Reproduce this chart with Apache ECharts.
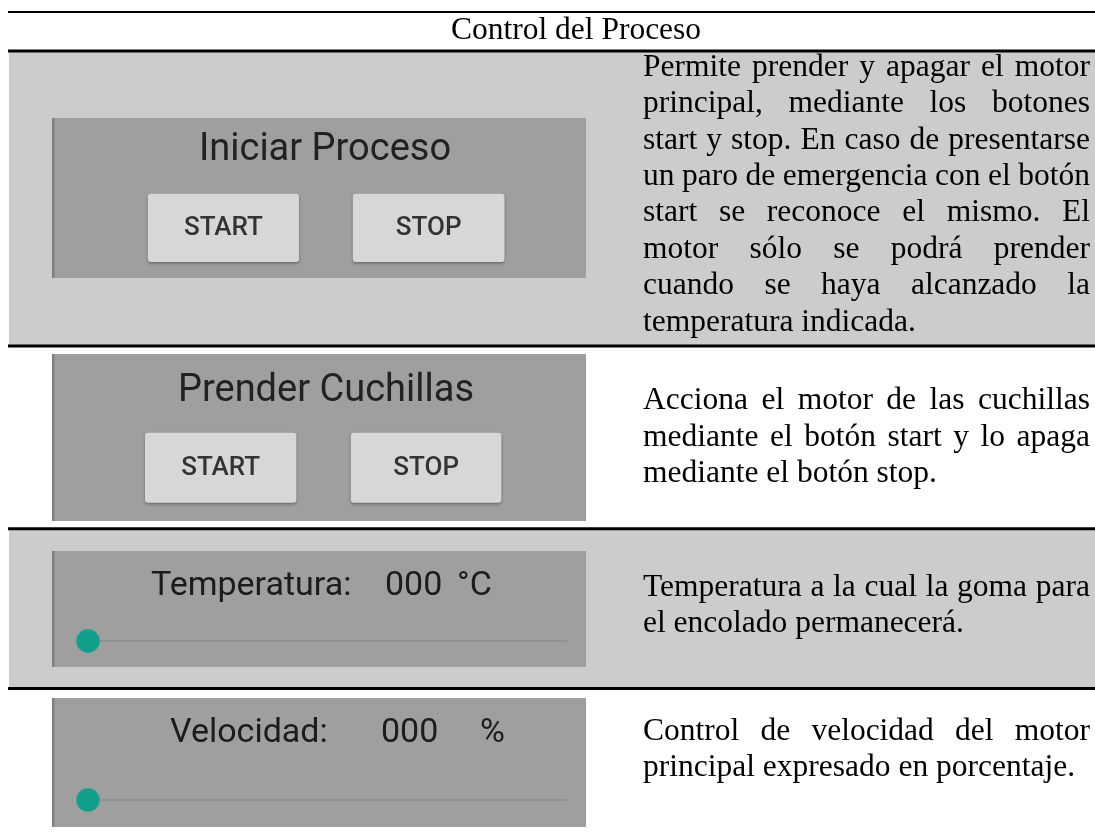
<!DOCTYPE html>
<html><head><meta charset="utf-8">
<script src="https://cdn.jsdelivr.net/npm/echarts@6/dist/echarts.min.js"></script>
<style>html,body{margin:0;padding:0;background:#fff}#c{width:1095px;height:834px}</style>
</head><body><div id="c"></div>
<script>
// ---- content ----
const tableTitle = 'Control del Proceso';
const panelTitles = ['Iniciar Proceso', 'Prender Cuchillas'];
const buttonLabels = ['START', 'STOP'];
const readoutLabels = ['Temperatura:', 'Velocidad:'];
const readoutValues = ['000', '000'];
const readoutUnits = ['°C', '%'];
const sliderValues = [0, 0];
const sliderRange = [0, 100];
const descRow1 = [
  'Permite prender y apagar el motor',
  'principal, mediante los botones',
  'start y stop. En caso de presentarse',
  'un paro de emergencia con el botón',
  'start se reconoce el mismo. El',
  'motor sólo se podrá prender',
  'cuando se haya alcanzado la',
  'temperatura indicada.'
];
const descRow2 = [
  'Acciona el motor de las cuchillas',
  'mediante el botón start y lo apaga',
  'mediante el botón stop.'
];
const descRow3 = [
  'Temperatura a la cual la goma para',
  'el encolado permanecerá.'
];
const descRow4 = [
  'Control de velocidad del motor',
  'principal expresado en porcentaje.'
];

// ---- layout ----
const W = 1095, H = 834;
const TL = 9;                 // table left
const SERIF = '"Liberation Serif", "Times New Roman", serif';
const SANS = 'Roboto, "Noto Sans", sans-serif';
const BODY_FS = 31.5, BODY_LH = 36.4;
const TX0 = 643, TX1 = 1090;
const MID = 0.34;             // baseline -> middle offset (em)
const PX0 = 52, PX1 = 586;    // screenshot panels

const ctx = document.createElement('canvas').getContext('2d');
function measure(t, font) { ctx.font = font; return ctx.measureText(t).width; }

function txt(text, x, y, fs, family, fill, align, weight) {
  const font = (weight ? weight + ' ' : '') + fs + 'px ' + family;
  return { type: 'text', silent: true, z: 10,
    style: { text, x, y: y - MID * fs, font, fill, textAlign: align || 'left', textVerticalAlign: 'middle' } };
}

function paragraph(lines, base0) {
  const font = BODY_FS + 'px ' + SERIF;
  const els = [];
  lines.forEach((line, i) => {
    const words = line.split(' ');
    const last = i === lines.length - 1;
    const ww = words.map(w => measure(w, font));
    const tot = ww.reduce((a, b) => a + b, 0);
    const gap = (!last && words.length > 1) ? (TX1 - TX0 - tot) / (words.length - 1) : measure(' ', font);
    let x = TX0;
    words.forEach((w, j) => {
      els.push(txt(w, x, base0 + i * BODY_LH, BODY_FS, SERIF, '#000', 'left'));
      x += ww[j] + gap;
    });
  });
  return els;
}

function rect(x, y, w, h, fill, extra) {
  return Object.assign({ type: 'rect', silent: true, shape: { x, y, width: w, height: h }, style: { fill } }, extra || {});
}

function button(x0, x1, y0, y1, label) {
  return [
    rect(x0, y0, x1 - x0, y1 - y0, '#d7d7d7', {
      shape: { x: x0, y: y0, width: x1 - x0, height: y1 - y0, r: 3 },
      style: { fill: '#d7d7d7', shadowBlur: 3, shadowOffsetY: 1.5, shadowColor: 'rgba(0,0,0,0.35)' }, z: 5 }),
    txt(label, (x0 + x1) / 2, (y0 + y1) / 2 + 9.3, 26, SANS, '#333', 'center', 500)
  ];
}

function panel(y0, y1) {
  return [
    rect(PX0, y0, PX1 - PX0, y1 - y0, '#9f9f9f', { z: 2 }),
    rect(PX0, y0, 2.5, y1 - y0, '#808080', { z: 3 })
  ];
}

const g = [];
// row backgrounds
g.push(rect(TL, 52, W - TL, 293, '#cccccc'));
g.push(rect(TL, 530, W - TL, 157.5, '#cccccc'));
// rules
g.push(rect(TL - 1, 11, W - TL + 1, 2, '#000', { z: 8 }));
g.push(rect(TL - 1, 49.5, W - TL + 1, 3, '#000', { z: 8 }));
g.push(rect(TL - 1, 344.5, W - TL + 1, 3, '#000', { z: 8 }));
g.push(rect(TL - 1, 527.3, W - TL + 1, 3, '#000', { z: 8 }));
g.push(rect(TL - 1, 687, W - TL + 1, 3, '#000', { z: 8 }));
// title
g.push(txt(tableTitle, 576, 41, BODY_FS, SERIF, '#000', 'center'));

// row 1 panel
g.push(...panel(118, 278));
g.push(txt(panelTitles[0], 325, 163, 38, SANS, '#222', 'center'));
g.push(...button(147.8, 299, 193.7, 262, buttonLabels[0]));
g.push(...button(352.8, 504.5, 193.7, 262, buttonLabels[1]));
// row 2 panel
g.push(...panel(354, 521));
g.push(txt(panelTitles[1], 326, 404, 38, SANS, '#222', 'center'));
g.push(...button(145, 296.4, 432.7, 502.7, buttonLabels[0]));
g.push(...button(350.8, 501.4, 432.7, 502.7, buttonLabels[1]));
// row 3 panel
g.push(...panel(551, 667));
g.push(txt(readoutLabels[0], 151, 598, 34, SANS, '#1c1c1c', 'left'));
g.push(txt(readoutValues[0], 385, 598, 34, SANS, '#1c1c1c', 'left'));
g.push(txt(readoutUnits[0], 457, 598, 34, SANS, '#1c1c1c', 'left'));
// row 4 panel
g.push(...panel(698, 827));
g.push(txt(readoutLabels[1], 170, 745, 34, SANS, '#1c1c1c', 'left'));
g.push(txt(readoutValues[1], 381, 745, 34, SANS, '#1c1c1c', 'left'));
g.push(txt(readoutUnits[1], 480, 745, 34, SANS, '#1c1c1c', 'left'));

// descriptions
g.push(...paragraph(descRow1, 78.3));
g.push(...paragraph(descRow2, 411.7));
g.push(...paragraph(descRow3, 598.3));
g.push(...paragraph(descRow4, 742.5));

// sliders drawn through value axes
const sliderY = [641, 800];
const grids = sliderY.map(y => ({ left: 88, width: 478, top: y - 1, height: 1, z: 20 }));
const xAxes = sliderY.map((y, i) => ({
  type: 'value', gridIndex: i, min: sliderRange[0], max: sliderRange[1], z: 25,
  axisLine: { show: true, onZero: false, lineStyle: { color: '#929292', width: 2 } },
  axisTick: { show: false }, axisLabel: { show: false }, splitLine: { show: false }
}));
const yAxes = sliderY.map((y, i) => ({ type: 'value', gridIndex: i, min: 0, max: 1, show: false }));
const series = sliderValues.map((v, i) => ({
  type: 'scatter', xAxisIndex: i, yAxisIndex: i, data: [[v, 0]], symbolSize: 23.5,
  itemStyle: { color: '#10a08b', opacity: 1 }, clip: false, silent: true, z: 30
}));

const chart = echarts.init(document.getElementById('c'), null, { renderer: 'canvas' });
chart.setOption({
  animation: false,
  backgroundColor: '#fff',
  grid: grids, xAxis: xAxes, yAxis: yAxes, series,
  graphic: { elements: g }
});
</script></body></html>
